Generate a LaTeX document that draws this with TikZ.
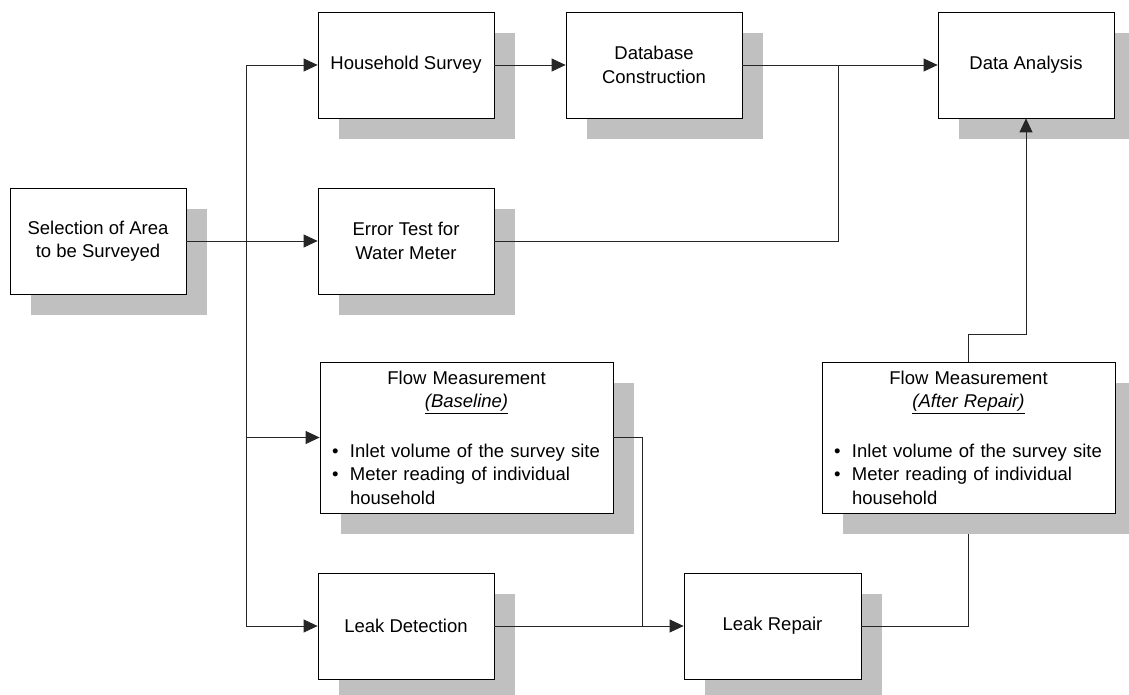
\documentclass[tikz,border=0pt]{standalone}
\usepackage{fontspec}
\setmainfont{Liberation Sans}
\usetikzlibrary{arrows.meta,shadows,calc}
\definecolor{shadowgray}{HTML}{C0C0C0}
\newcommand{\itemdot}{\makebox[18pt][l]{\textbullet}}
\newcommand{\midline}[1]{\makebox[269pt][c]{#1}}
\begin{document}
\begin{tikzpicture}[x=1pt,y=-1pt,
  box/.style={draw=black, line width=0.8pt, fill=white,
    minimum width=176pt, minimum height=106pt, align=center, inner sep=0pt,
    font=\fontsize{18.5}{23.5}\selectfont,
    drop shadow={shadow xshift=21pt, shadow yshift=-21pt, fill=shadowgray, opacity=1}},
  wide/.style={box, minimum width=293pt, minimum height=151pt, text width=269pt, align=left},
  link/.style={line width=0.8pt, draw=black!85},
  arr/.style={link, -{Triangle[length=14pt,width=13pt]}}]
\useasboundingbox (0,0) rectangle (1129,695);
\clip (0,0) rectangle (1129,695);

% process boxes
\node[box] (sel) at (98,241) {Selection of Area\\to be Surveyed};
\node[box] (hs) at (406,65) {Household Survey};
\node[box] (db) at (654,65) {Database\\Construction};
\node[box] (da) at (1026,65) {Data Analysis};
\node[box] (et) at (406,241) {Error Test for\\Water Meter};
\node[wide] (fb) at (466.5,437.5) {%
  \midline{Flow Measurement}\\
  \midline{\underline{\textit{(Baseline)}}}\\[26pt]
  \itemdot Inlet volume of the survey site\\
  \itemdot Meter reading of individual\\
  \hspace*{18pt}household};
\node[wide] (fa) at (968.5,437.5) {%
  \midline{Flow Measurement}\\
  \midline{\underline{\textit{(After Repair)}}}\\[26pt]
  \itemdot Inlet volume of the survey site\\
  \itemdot Meter reading of individual\\
  \hspace*{18pt}household};
\node[box] (ld) at (406,626) {Leak Detection};
\node[box, minimum width=177pt] (lr) at (772.5,626) {Leak Repair};

% junction points
\coordinate (trk) at (246,0);
\coordinate (mrg) at (838,65);
\coordinate (drop) at (642,0);

% distribution trunk from the area selection
\draw[link] (sel.east) -- (sel.east -| trk);
\draw[link] (trk |- hs.west) -- (trk |- ld.west);
\draw[arr] (trk |- hs.west) -- (hs.west);
\draw[arr] (trk |- et.west) -- (et.west);
\draw[arr] (trk |- fb.west) -- (fb.west);
\draw[arr] (trk |- ld.west) -- (ld.west);

% survey and analysis chain
\draw[arr] (hs.east) -- (db.west);
\draw[arr] (db.east) -- (da.west);
\draw[link] (et.east) -| (mrg);

% leak detection and repair
\draw[link] (fb.east) -| (drop |- lr.west);
\draw[arr] (ld.east) -- (lr.west);
\draw[link] (lr.east) -| ($(fa.south)+(0,21)$);
\draw[arr] (fa.north) -- ++(0,-27) -| (da.south);
\end{tikzpicture}
\end{document}
